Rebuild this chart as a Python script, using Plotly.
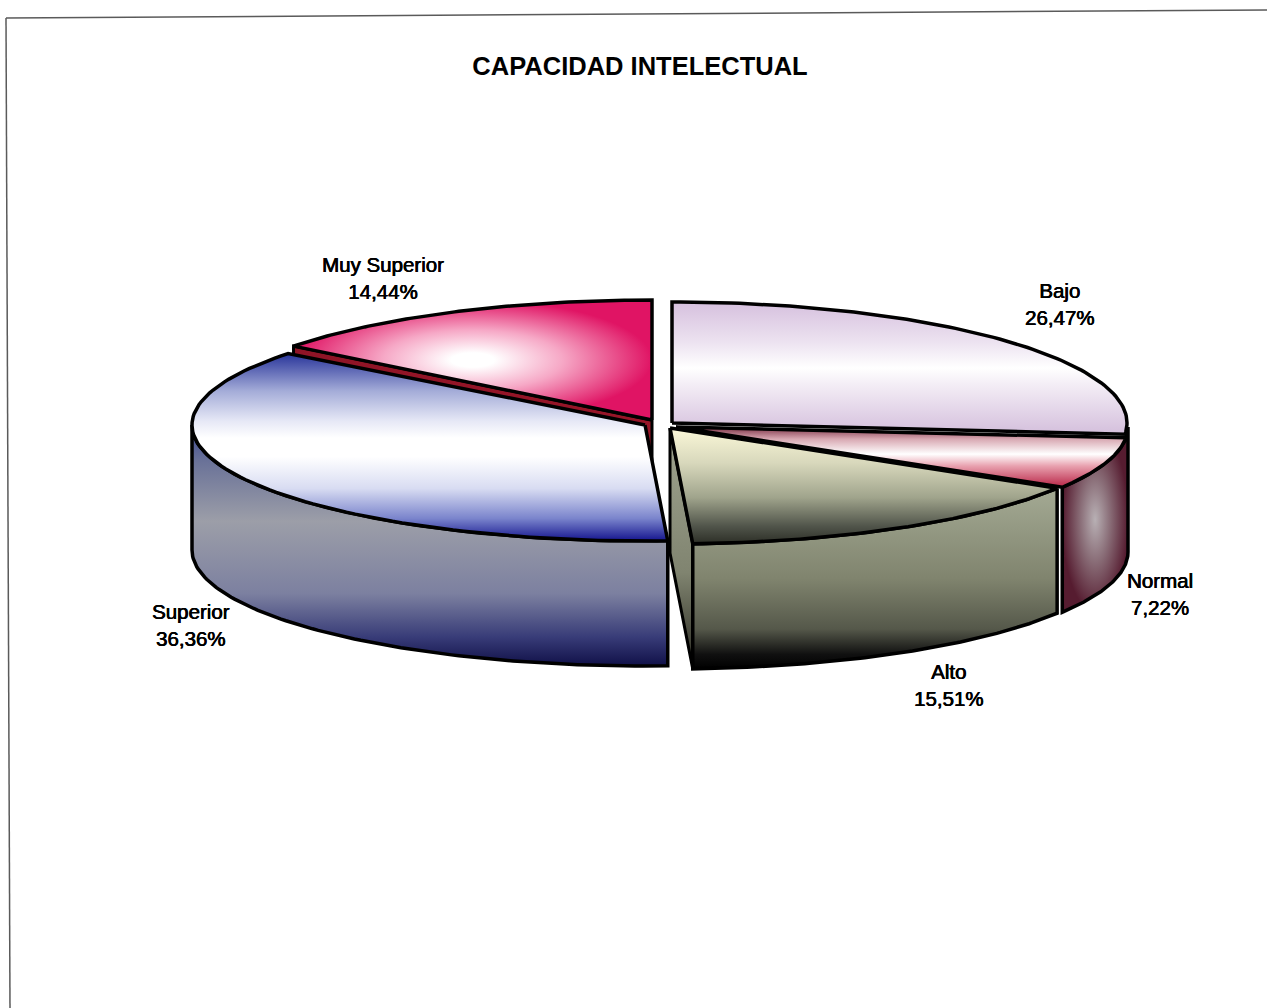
import numpy as np
import plotly.graph_objects as go

# ---- data ----
categories = ["Bajo", "Normal", "Alto", "Superior", "Muy Superior"]
shares = [26.47, 7.22, 15.51, 36.36, 14.44]
chart_title = "CAPACIDAD INTELECTUAL"

# ---- projected pie geometry (pixel-like axis units) ----
DEPTH = 125
centers = {
    "Bajo": (672, 423, 455, 121),
    "Normal": (676, 427, 452, 116),
    "Alto": (670, 428, 453, 116),
    "Superior": (645, 425, 453, 116),
    "Muy Superior": (652, 420, 455, 120),
}
label_pos = {
    "Bajo": (1060, 304),
    "Normal": (1160, 594),
    "Alto": (949, 685),
    "Superior": (191, 625),
    "Muy Superior": (383, 278),
}

# ---- styles ----
top_fill = {
    "Bajo": ("vertical", [[0, "#d6c0de"], [0.3, "#ece2f0"], [0.5, "#ffffff"], [0.62, "#f4eef6"], [1, "#d4bfdc"]]),
    "Normal": ("vertical", [[0, "#7b3044"], [0.2, "#d8a8b2"], [0.45, "#ffffff"], [0.65, "#e8a0ae"], [1, "#b82446"]]),
    "Alto": ("vertical", [[0, "#fbf8d8"], [0.3, "#d8d8bc"], [0.6, "#a0a48c"], [0.85, "#50544a"], [1, "#2c2e26"]]),
    "Superior": ("vertical", [[0, "#28349a"], [0.2, "#a4acd8"], [0.36, "#e6e8f6"], [0.45, "#ffffff"], [0.55, "#ffffff"], [0.72, "#d8dcf2"], [0.88, "#7a84cc"], [1, "#14148e"]]),
    "Muy Superior": ("radial", [[0, "#ffffff"], [0.12, "#ffffff"], [0.5, "#f6a8c6"], [1, "#e01464"]]),
}
side_fill = {
    "Normal": ("radial", [[0, "#b8b0b4"], [0.45, "#8a6e78"], [1, "#561c30"]]),
    "Alto": ("vertical", [[0, "#a4aa94"], [0.5, "#80846e"], [0.78, "#55584a"], [0.92, "#101010"], [1, "#000000"]]),
    "Superior": ("vertical", [[0, "#3a4690"], [0.15, "#6a7298"], [0.4, "#9c9ea8"], [0.7, "#7c80a0"], [0.88, "#383c78"], [1, "#101048"]]),
}
wall_fill = {
    "Muy Superior": ("vertical", [[0, "#8e1426"], [1, "#a8182c"]]),
    "Alto": ("vertical", [[0, "#a0a490"], [0.6, "#808470"], [1, "#2a2a22"]]),
}

# ---- angles from the values ----
edges = np.concatenate([[0], np.cumsum(shares)]) / np.sum(shares) * 2 * np.pi
spans = {c: (edges[i], edges[i + 1]) for i, c in enumerate(categories)}


def pt(name, t):
    cx, cy, a, b = centers[name]
    return cx + a * np.sin(t), cy - b * np.cos(t)


def arc(name, t0, t1, n=90):
    return pt(name, np.linspace(t0, t1, n))


fig = go.Figure()


def add_poly(x, y, fill, width=3.5):
    kind, scale = fill
    grad = dict(type=kind, colorscale=scale)
    if kind == "vertical":
        grad.update(start=float(np.min(y)), stop=float(np.max(y)))
    fig.add_trace(go.Scatter(
        x=list(x), y=list(y), mode="lines", fill="toself",
        fillgradient=grad,
        line=dict(color="#000000", width=width), hoverinfo="skip", showlegend=False,
    ))


def add_top(name):
    t0, t1 = spans[name]
    ax, ay = arc(name, t0, t1)
    cx, cy, _, _ = centers[name]
    add_poly(np.r_[cx, ax, cx], np.r_[cy, ay, cy], top_fill[name])


def add_side(name, t0, t1):
    ax, ay = arc(name, t0, t1)
    add_poly(np.r_[ax, ax[::-1], ax[0]], np.r_[ay, ay[::-1] + DEPTH, ay[0]], side_fill[name])


def add_wall(name, t):
    cx, cy, _, _ = centers[name]
    px, py = pt(name, t)
    add_poly([cx, px, px, cx, cx], [cy, py, py + DEPTH, cy + DEPTH, cy], wall_fill[name], width=3)


# back to front
add_wall("Muy Superior", spans["Muy Superior"][0])
add_top("Muy Superior")
add_top("Bajo")
add_side("Normal", np.pi / 2, spans["Normal"][1])
add_top("Normal")
add_wall("Alto", spans["Alto"][1])
add_side("Alto", *spans["Alto"])
add_top("Alto")
add_side("Superior", spans["Superior"][0], 1.5 * np.pi)
add_top("Superior")

heavy = "0.4px 0 0 #000000, -0.2px 0 0 #000000"
annotations = []
for c, v in zip(categories, shares):
    x, y = label_pos[c]
    annotations.append(dict(
        x=x, y=y, xref="x", yref="y", showarrow=False,
        text=f"{c}<br>{v:.2f}%".replace(".", ","),
        font=dict(family="Liberation Sans", size=20.5, color="#000000", shadow=heavy),
        align="center", xanchor="center", yanchor="middle",
    ))

frame = dict(color="#5a5a5a", width=1.5)
fig.update_layout(
    width=1267, height=1008, autosize=False,
    margin=dict(l=0, r=0, t=0, b=0),
    paper_bgcolor="#ffffff", plot_bgcolor="#ffffff",
    xaxis=dict(range=[0, 1267], visible=False, fixedrange=True),
    yaxis=dict(range=[1008, 0], visible=False, fixedrange=True),
    title=dict(text=f"<b>{chart_title}</b>", x=640 / 1267, y=1 - 66 / 1008,
               xanchor="center", yanchor="middle",
               font=dict(family="Liberation Sans", size=25.5, color="#000000")),
    annotations=annotations,
    shapes=[
        dict(type="line", x0=6, x1=10, y0=18, y1=1008, line=frame, xref="x", yref="y"),
        dict(type="line", x0=6, x1=1267, y0=18, y1=10, line=frame, xref="x", yref="y"),
    ],
)
fig.write_html("out.html", config=dict(displayModeBar=False),
               post_script="document.body.style.margin='0';")
